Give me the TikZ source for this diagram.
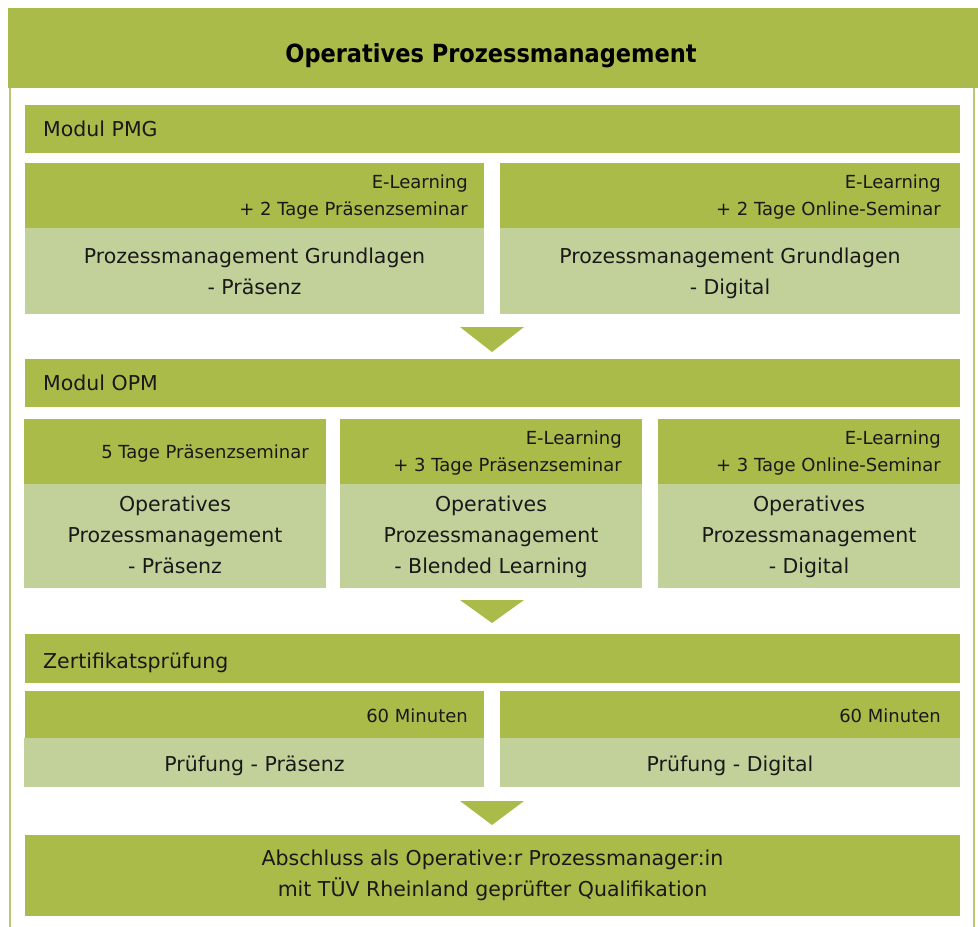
\documentclass[tikz,border=0pt]{standalone}
\usepackage{fontspec}
\setmainfont{DejaVu Sans}
\newfontfamily\titlefont[FakeStretch=0.9]{DejaVu Sans}
\definecolor{dgreen}{HTML}{AABB4A}
\definecolor{lgreen}{HTML}{C2D19A}
\definecolor{lineg}{HTML}{B8C872}
\begin{document}
\begin{tikzpicture}[x=1pt,y=-1pt,
  dbox/.style={fill=dgreen,draw=none,inner sep=0pt,outer sep=0pt,anchor=north west},
  lbox/.style={fill=lgreen,draw=none,inner sep=0pt,outer sep=0pt,anchor=north west},
  maintxt/.style={font=\fontsize{20.5}{31}\selectfont,align=center,inner sep=0pt,anchor=base,text=black!90},
  smalltxt/.style={font=\fontsize{18}{27}\selectfont,align=right,inner sep=0pt,anchor=base east,text=black!90},
  headtxt/.style={font=\fontsize{20.5}{31}\selectfont,inner sep=0pt,anchor=base west,text=black!90},
  tri/.style={fill=dgreen,draw=none}]
\useasboundingbox (0,0) rectangle (978,927);
\fill[white] (0,0) rectangle (978,927);
% frame lines
\draw[lineg,line width=2pt] (10,88) -- (10,927);
\draw[lineg,line width=2pt] (974.3,88) -- (974.3,927);
% header
\node[dbox,minimum width=970,minimum height=80] (hdr) at (8,8) {};
\node[font=\titlefont\bfseries\fontsize{25}{30}\selectfont,inner sep=0pt,anchor=base] (title) at (491,62) {Operatives Prozessmanagement};
% Modul PMG
\node[dbox,minimum width=935,minimum height=48] (pmg) at (25,105) {};
\node[headtxt] (pmgt) at (43,136.5) {Modul PMG};
\node[dbox,minimum width=459,minimum height=65] (pmgLd) at (25,163) {};
\node[lbox,minimum width=459,minimum height=86] (pmgLl) at (25,228) {};
\node[dbox,minimum width=460,minimum height=65] (pmgRd) at (500,163) {};
\node[lbox,minimum width=460,minimum height=86] (pmgRl) at (500,228) {};
\node[smalltxt] (pmgLs) at (468,215) {E-Learning\\+ 2 Tage Präsenzseminar};
\node[smalltxt] (pmgRs) at (941,215) {E-Learning\\+ 2 Tage Online-Seminar};
\node[maintxt] (pmgLm) at (254.5,294.5) {Prozessmanagement Grundlagen\\- Präsenz};
\node[maintxt] (pmgRm) at (730,294.5) {Prozessmanagement Grundlagen\\- Digital};
\fill[tri] (460,327) -- (524,327) -- (492,352) -- cycle;
% Modul OPM
\node[dbox,minimum width=935,minimum height=48] (opm) at (25,359) {};
\node[headtxt] (opmt) at (43,390.5) {Modul OPM};
\node[dbox,minimum width=302,minimum height=65] (o1d) at (24,419) {};
\node[lbox,minimum width=302,minimum height=104] (o1l) at (24,484) {};
\node[dbox,minimum width=302,minimum height=65] (o2d) at (340,419) {};
\node[lbox,minimum width=302,minimum height=104] (o2l) at (340,484) {};
\node[dbox,minimum width=302,minimum height=65] (o3d) at (658,419) {};
\node[lbox,minimum width=302,minimum height=104] (o3l) at (658,484) {};
\node[smalltxt] (o1s) at (309,458) {5 Tage Präsenzseminar};
\node[smalltxt] (o2s) at (622,471) {E-Learning\\+ 3 Tage Präsenzseminar};
\node[smalltxt] (o3s) at (941,471) {E-Learning\\+ 3 Tage Online-Seminar};
\node[maintxt] (o1m) at (175,573.5) {Operatives\\Prozessmanagement\\- Präsenz};
\node[maintxt] (o2m) at (491,573.5) {Operatives\\Prozessmanagement\\- Blended Learning};
\node[maintxt] (o3m) at (809,573.5) {Operatives\\Prozessmanagement\\- Digital};
\fill[tri] (460,600) -- (524,600) -- (492,623) -- cycle;
% Zertifikatspruefung
\node[dbox,minimum width=935,minimum height=49] (zp) at (25,634) {};
\node[headtxt] (zpt) at (43,668) {Zertifikatsprüfung};
\node[dbox,minimum width=459,minimum height=47] (zLd) at (25,691) {};
\node[lbox,minimum width=460,minimum height=49] (zLl) at (24,738) {};
\node[dbox,minimum width=460,minimum height=47] (zRd) at (500,691) {};
\node[lbox,minimum width=460,minimum height=49] (zRl) at (500,738) {};
\node[smalltxt] (zLs) at (468,722) {60 Minuten};
\node[smalltxt] (zRs) at (941,722) {60 Minuten};
\node[maintxt] (zLm) at (254.5,771.5) {Prüfung - Präsenz};
\node[maintxt] (zRm) at (730,771.5) {Prüfung - Digital};
\fill[tri] (460,801) -- (524,801) -- (492,825) -- cycle;
% Abschluss
\node[dbox,minimum width=935,minimum height=81] (abs) at (25,835) {};
\node[maintxt] (abst) at (492.5,896.5) {Abschluss als Operative:r Prozessmanager:in\\mit TÜV Rheinland geprüfter Qualifikation};
\end{tikzpicture}
\end{document}
